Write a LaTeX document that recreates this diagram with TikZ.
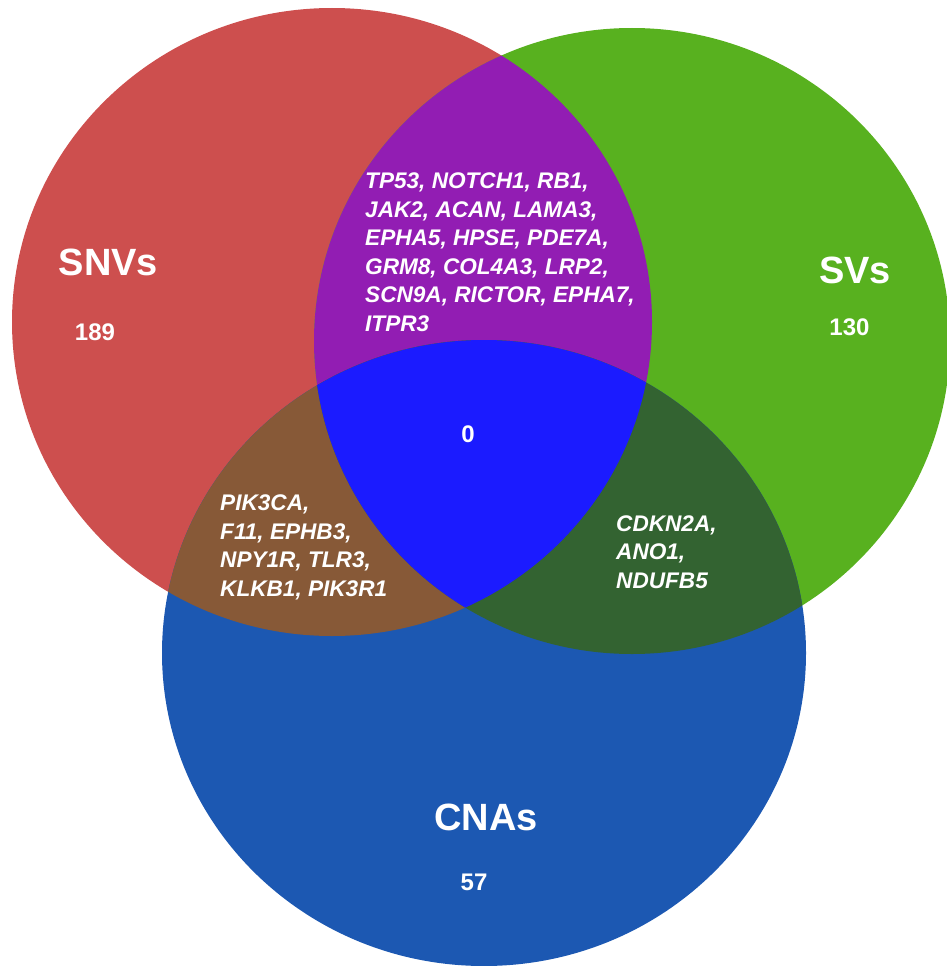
\documentclass[tikz,border=0pt]{standalone}
\usepackage{fontspec}
\setmainfont{Liberation Sans}

\definecolor{snvred}{HTML}{CD4F4E}
\definecolor{svgreen}{HTML}{58B11F}
\definecolor{cnablue}{HTML}{1C58B2}
\definecolor{snvsvpurple}{HTML}{921DB3}
\definecolor{snvcnabrown}{HTML}{875937}
\definecolor{svcnagreen}{HTML}{336331}
\definecolor{allblue}{HTML}{1B1BFF}

\newcommand\snvset{(332,322) ellipse [x radius=320, y radius=314]}
\newcommand\svset{(632,341) ellipse [x radius=318, y radius=313]}
\newcommand\cnaset{(484,653) ellipse [x radius=322, y radius=313]}

\tikzset{
  setlabel/.style={text=white, inner sep=0pt, anchor=base,
    font=\fontsize{38}{40}\selectfont\bfseries},
  countlabel/.style={text=white, inner sep=0pt, anchor=base,
    font=\fontsize{24}{26}\selectfont\bfseries},
  genelist/.style={text=white, inner sep=0pt, align=left, anchor=north west,
    font=\fontsize{22.6}{28.5}\selectfont\bfseries\itshape},
}

\begin{document}
\begin{tikzpicture}[x=1pt,y=-1pt]
\useasboundingbox (0,0) rectangle (947,966);
\clip (0,0) rectangle (947,966);

% Sets
\fill[snvred] \snvset;
\fill[svgreen] \svset;
\fill[cnablue] \cnaset;

% Pairwise overlaps
\begin{scope}
  \clip \snvset;
  \fill[snvsvpurple] \svset;
  \fill[snvcnabrown] \cnaset;
\end{scope}
\begin{scope}
  \clip \svset;
  \fill[svcnagreen] \cnaset;
\end{scope}

% Overlap of all three
\begin{scope}
  \clip \snvset;
  \clip \svset;
  \fill[allblue] \cnaset;
\end{scope}

% Set names and counts
\node[setlabel] (snv) at (108.5,275) {SNVs};
\node[countlabel] (snvcount) at (95,340) {189};
\node[setlabel] (sv) at (855,283) {SVs};
\node[countlabel] (svcount) at (849.5,335) {130};
\node[setlabel] (cna) at (486,830) {CNAs};
\node[countlabel] (cnacount) at (474,890) {57};
\node[countlabel] (allcount) at (468,442) {0};

% Shared genes
\node[genelist] (snvsv) at (365,173) {TP53, NOTCH1, RB1,\\JAK2, ACAN, LAMA3,\\EPHA5, HPSE, PDE7A,\\GRM8, COL4A3, LRP2,\\SCN9A, RICTOR, EPHA7,\\ITPR3};
\node[genelist] (snvcna) at (220,495) {PIK3CA,\\F11, EPHB3,\\NPY1R, TLR3,\\KLKB1, PIK3R1};
\node[genelist] (svcna) at (616,515.5) {CDKN2A,\\ANO1,\\NDUFB5};
\end{tikzpicture}
\end{document}
